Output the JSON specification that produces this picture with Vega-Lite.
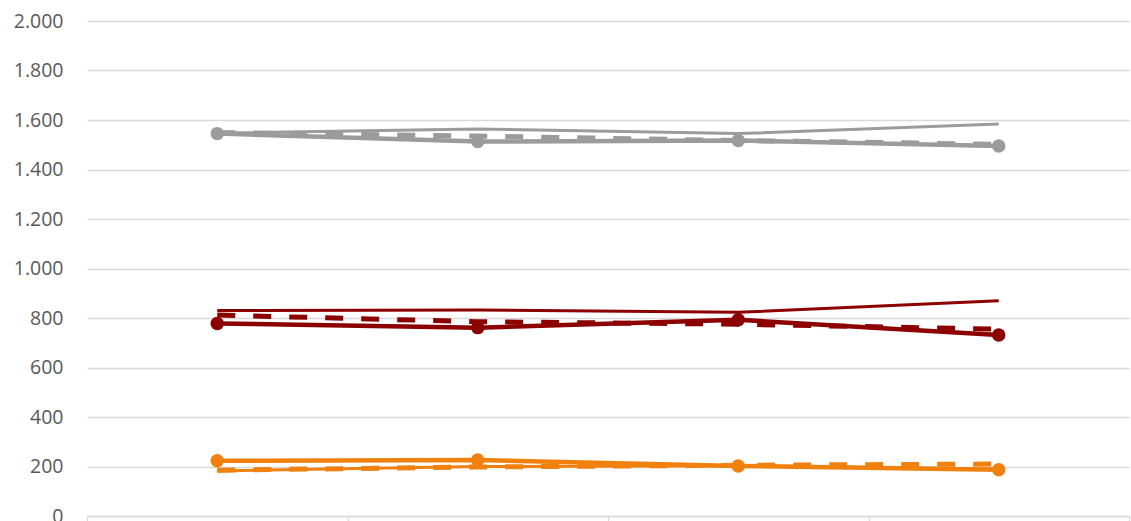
{
  "$schema": "https://vega.github.io/schema/vega-lite/v6.json",
  "width": 1042,
  "height": 495,
  "autosize": {"type": "none"},
  "padding": {"left": 87, "top": 21, "right": 2, "bottom": 5},
  "config": {"view": {"stroke": null}, "font": "Open Sans"},
  "data": {
    "values": [
      {"x": "1", "g": "gray", "k": "thin", "v": 1547},
      {"x": "2", "g": "gray", "k": "thin", "v": 1564},
      {"x": "3", "g": "gray", "k": "thin", "v": 1545},
      {"x": "4", "g": "gray", "k": "thin", "v": 1584},
      {"x": "1", "g": "gray", "k": "dash", "v": 1550},
      {"x": "2", "g": "gray", "k": "dash", "v": 1535},
      {"x": "3", "g": "gray", "k": "dash", "v": 1517},
      {"x": "4", "g": "gray", "k": "dash", "v": 1502},
      {"x": "1", "g": "gray", "k": "mark", "v": 1545},
      {"x": "2", "g": "gray", "k": "mark", "v": 1513},
      {"x": "3", "g": "gray", "k": "mark", "v": 1517},
      {"x": "4", "g": "gray", "k": "mark", "v": 1495},
      {"x": "1", "g": "red", "k": "thin", "v": 830},
      {"x": "2", "g": "red", "k": "thin", "v": 832},
      {"x": "3", "g": "red", "k": "thin", "v": 823},
      {"x": "4", "g": "red", "k": "thin", "v": 870},
      {"x": "1", "g": "red", "k": "dash", "v": 812},
      {"x": "2", "g": "red", "k": "dash", "v": 785},
      {"x": "3", "g": "red", "k": "dash", "v": 775},
      {"x": "4", "g": "red", "k": "dash", "v": 755},
      {"x": "1", "g": "red", "k": "mark", "v": 778},
      {"x": "2", "g": "red", "k": "mark", "v": 761},
      {"x": "3", "g": "red", "k": "mark", "v": 793},
      {"x": "4", "g": "red", "k": "mark", "v": 731},
      {"x": "1", "g": "orange", "k": "thin", "v": 182},
      {"x": "2", "g": "orange", "k": "thin", "v": 200},
      {"x": "3", "g": "orange", "k": "thin", "v": 203},
      {"x": "4", "g": "orange", "k": "thin", "v": 190},
      {"x": "1", "g": "orange", "k": "dash", "v": 185},
      {"x": "2", "g": "orange", "k": "dash", "v": 198},
      {"x": "3", "g": "orange", "k": "dash", "v": 205},
      {"x": "4", "g": "orange", "k": "dash", "v": 210},
      {"x": "1", "g": "orange", "k": "mark", "v": 223},
      {"x": "2", "g": "orange", "k": "mark", "v": 226},
      {"x": "3", "g": "orange", "k": "mark", "v": 202},
      {"x": "4", "g": "orange", "k": "mark", "v": 187}
    ]
  },
  "encoding": {
    "x": {
      "field": "x",
      "type": "ordinal",
      "bandPosition": 0.5,
      "scale": {"type": "band", "paddingInner": 0, "paddingOuter": 0},
      "axis": {
        "title": null,
        "labels": false,
        "grid": false,
        "domainColor": "#d9d9d9",
        "domainWidth": 1.3,
        "tickColor": "#d9d9d9",
        "tickWidth": 1.3,
        "tickSize": 6,
        "tickBand": "extent"
      }
    },
    "y": {
      "field": "v",
      "type": "quantitative",
      "scale": {"domain": [0, 2000], "nice": false},
      "axis": {
        "title": null,
        "values": [0, 200, 400, 600, 800, 1000, 1200, 1400, 1600, 1800, 2000],
        "labelExpr": "replace(format(datum.value, ','), ',', '.')",
        "domain": false,
        "ticks": false,
        "grid": true,
        "gridColor": "#d9d9d9",
        "gridWidth": 1.3,
        "labelFontSize": 19.5,
        "labelColor": "#595959",
        "labelPadding": 24
      }
    },
    "color": {
      "field": "g",
      "type": "nominal",
      "legend": null,
      "scale": {"domain": ["gray", "red", "orange"], "range": ["#9b9b9b", "#8c0000", "#f0810f"]}
    },
    "detail": {"field": "k"}
  },
  "layer": [
    {
      "transform": [{"filter": "datum.k == 'thin'"}],
      "mark": {"type": "line", "strokeWidth": 3}
    },
    {
      "transform": [{"filter": "datum.k == 'dash'"}],
      "mark": {"type": "line", "strokeWidth": 5, "strokeDash": [18, 18]}
    },
    {
      "transform": [{"filter": "datum.k == 'mark'"}],
      "mark": {"type": "line", "strokeWidth": 4.5, "point": {"filled": true, "size": 180, "opacity": 1}}
    }
  ]
}
